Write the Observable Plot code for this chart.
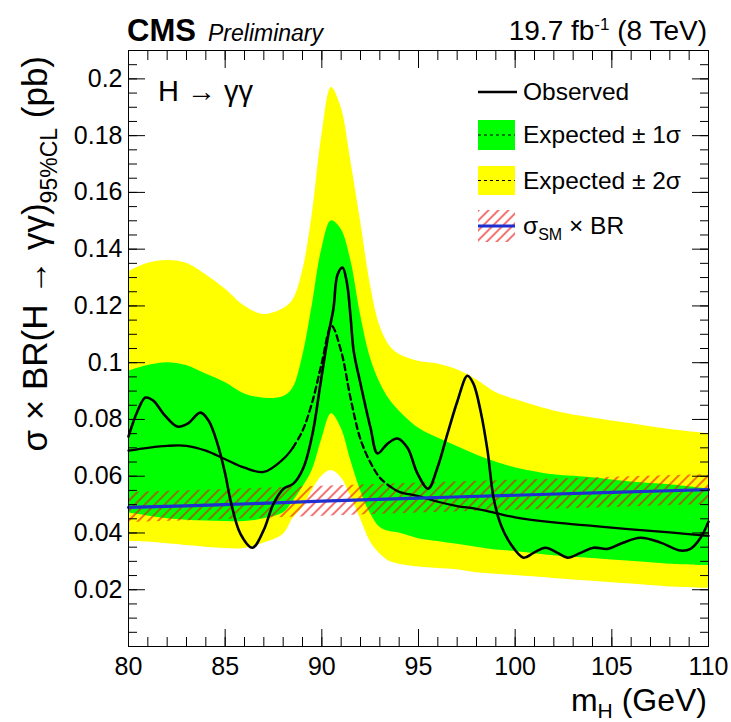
<!DOCTYPE html>
<html><head><meta charset="utf-8">
<script src="https://cdn.jsdelivr.net/npm/d3@7"></script>
<script src="https://cdn.jsdelivr.net/npm/@observablehq/plot@0.6"></script>
<style>
html,body{margin:0;padding:0;background:#fff;}
body{width:731px;height:722px;overflow:hidden;font-family:"Liberation Sans",Arial,Helvetica,sans-serif;color:#000;}
#header{position:relative;width:731px;height:44px;}
#header span{position:absolute;line-height:1;white-space:nowrap;}
#chart{width:731px;height:678px;}
</style></head><body>
<div id="header">
<span style="left:127px;top:15px;font-size:31px;font-weight:bold;">CMS</span>
<span style="left:208px;top:22px;font-size:23px;font-style:italic;">Preliminary</span>
<span style="right:24px;top:17px;font-size:28px;">19.7 fb<sup style="font-size:17px;vertical-align:10px;line-height:0">-1</sup> (8 TeV)</span>
</div>
<div id="chart"></div>
<script>
// ---- data ----
const bandX  = [80, 81, 82, 83, 84, 85, 86, 87, 88, 88.5, 89, 89.5, 90, 90.5, 91, 91.5, 92, 92.5, 93, 93.5, 94, 95, 96, 97, 98, 99, 100, 102, 104, 106, 108, 110];
const exp2Hi = [0.132, 0.135, 0.136, 0.135, 0.131, 0.126, 0.120, 0.117, 0.119, 0.122, 0.132, 0.152, 0.180, 0.197, 0.190, 0.171, 0.150, 0.128, 0.113, 0.106, 0.103, 0.1005, 0.0995, 0.0975, 0.094, 0.0895, 0.087, 0.083, 0.0805, 0.0785, 0.0765, 0.075];
const exp1Hi = [0.097, 0.099, 0.100, 0.099, 0.096, 0.093, 0.089, 0.0875, 0.088, 0.091, 0.102, 0.120, 0.140, 0.150, 0.147, 0.136, 0.117, 0.102, 0.093, 0.087, 0.083, 0.077, 0.0735, 0.0705, 0.0675, 0.065, 0.063, 0.0605, 0.0595, 0.058, 0.057, 0.0555];
const expMed = [0.069, 0.070, 0.0707, 0.0707, 0.069, 0.066, 0.063, 0.0615, 0.066, 0.070, 0.076, 0.086, 0.100, 0.113, 0.104, 0.087, 0.073, 0.065, 0.0595, 0.0565, 0.0545, 0.053, 0.051, 0.0495, 0.0485, 0.047, 0.0455, 0.0437, 0.0425, 0.0413, 0.0402, 0.039];
const exp1Lo = [0.047, 0.046, 0.045, 0.0445, 0.0442, 0.044, 0.044, 0.045, 0.047, 0.051, 0.056, 0.062, 0.073, 0.082, 0.077, 0.0655, 0.055, 0.047, 0.042, 0.0405, 0.040, 0.038, 0.037, 0.036, 0.035, 0.034, 0.0335, 0.032, 0.031, 0.030, 0.029, 0.0285];
const exp2Lo = [0.037, 0.0368, 0.0362, 0.0356, 0.035, 0.0345, 0.0345, 0.0365, 0.0395, 0.045, 0.049, 0.055, 0.060, 0.062, 0.0595, 0.053, 0.045, 0.037, 0.0327, 0.030, 0.029, 0.028, 0.0275, 0.027, 0.026, 0.0255, 0.025, 0.024, 0.023, 0.022, 0.021, 0.0205];

const obsX = [80, 80.47, 80.88, 81.29, 81.81, 82.53, 83.05, 83.72, 84.14, 84.6, 85.0, 85.28, 85.79, 86.41, 86.98, 87.5, 88.02, 88.53, 89.05, 89.52, 89.93, 90.34, 90.6, 90.81, 91.07, 91.3, 91.5, 91.65, 92.0, 92.52, 92.88, 93.4, 93.91, 94.43, 94.95, 95.5, 95.98, 96.5, 97.02, 97.53, 97.84, 98.21, 98.57, 98.88, 99.24, 99.76, 100.43, 100.95, 101.57, 102.19, 102.71, 103.38, 104.05, 104.78, 105.45, 106.48, 107.52, 108.55, 109.07, 109.59, 110];
const obsY = [0.074, 0.083, 0.0877, 0.0866, 0.082, 0.0775, 0.0785, 0.0824, 0.0796, 0.0715, 0.0609, 0.0514, 0.0397, 0.0348, 0.0408, 0.0503, 0.0556, 0.0574, 0.063, 0.075, 0.0926, 0.110, 0.119, 0.131, 0.1335, 0.128, 0.115, 0.104, 0.0926, 0.077, 0.068, 0.0715, 0.0733, 0.070, 0.0609, 0.0556, 0.063, 0.075, 0.0866, 0.0954, 0.0926, 0.083, 0.069, 0.0525, 0.0432, 0.0362, 0.0313, 0.033, 0.0348, 0.033, 0.0313, 0.033, 0.0348, 0.0344, 0.0362, 0.0383, 0.0366, 0.0338, 0.0344, 0.0383, 0.044];

const smX  = [80, 85, 90, 95, 100, 105, 110];
const smY  = [0.049, 0.050, 0.0512, 0.0523, 0.0533, 0.0543, 0.0553];
const smLo = [0.0437, 0.0447, 0.0459, 0.0470, 0.0480, 0.0490, 0.0500];
const smHi = [0.0543, 0.0553, 0.0565, 0.0576, 0.0586, 0.0596, 0.0606];

const xMajor = [80, 85, 90, 95, 100, 105, 110];
const yMajor = [0.02, 0.04, 0.06, 0.08, 0.1, 0.12, 0.14, 0.16, 0.18, 0.2];
const xMinor = d3.range(80, 110.5, 1);
const yMinor = d3.range(0, 43).map(i => +(i * 0.005).toFixed(3));

// ---- tables ----
const bands = bandX.map((x, i) => ({x, y2lo: exp2Lo[i], y1lo: exp1Lo[i], med: expMed[i], y1hi: exp1Hi[i], y2hi: exp2Hi[i]}));
const obs = obsX.map((x, i) => ({x, y: obsY[i]}));
const sm = smX.map((x, i) => ({x, y: smY[i], lo: smLo[i], hi: smHi[i]}));

const GREEN = "#00ff00", YELLOW = "#ffff00", BLUE = "#1f2fd0";
const FONT = "'Liberation Sans', Arial, Helvetica, sans-serif";
const MAJ = 17, MIN = 9;

const plot = Plot.plot({
  width: 731, height: 678,
  marginLeft: 128, marginRight: 23, marginTop: 6, marginBottom: 76,
  x: {domain: [80, 110], label: null},
  y: {domain: [0, 0.21], label: null},
  style: {fontFamily: FONT, fontSize: "25px", color: "#000", background: "#fff", overflow: "visible"},
  marks: [
    Plot.areaY(bands, {x: "x", y1: "y2lo", y2: "y2hi", fill: YELLOW, curve: "catmull-rom"}),
    Plot.areaY(bands, {x: "x", y1: "y1lo", y2: "y1hi", fill: GREEN, curve: "catmull-rom"}),
    Plot.areaY(sm, {x: "x", y1: "lo", y2: "hi", fill: "url(#hatch)"}),
    Plot.line(bands.filter(d => d.x <= 88.5), {x: "x", y: "med", stroke: "#000", strokeWidth: 2.3, curve: "catmull-rom"}),
    Plot.line(bands.filter(d => d.x >= 88.5 && d.x <= 93.5), {x: "x", y: "med", stroke: "#000", strokeWidth: 2.3, strokeDasharray: "6,4", curve: "catmull-rom"}),
    Plot.line(bands.filter(d => d.x >= 93.5), {x: "x", y: "med", stroke: "#000", strokeWidth: 2.3, curve: "catmull-rom"}),
    Plot.line(sm, {x: "x", y: "y", stroke: BLUE, strokeWidth: 3.2, curve: "catmull-rom"}),
    Plot.line(obs, {x: "x", y: "y", stroke: "#000", strokeWidth: 2.6, curve: "catmull-rom"}),
    Plot.frame({stroke: "#000", strokeWidth: 1}),
    // bottom axis labels + inward ticks
    Plot.axisX({anchor: "bottom", ticks: xMajor, tickSize: 0, tickPadding: 11, tickFormat: d => String(d), fontSize: 25, label: null}),
    Plot.axisX({anchor: "bottom", ticks: xMajor, tickSize: MAJ, dy: -MAJ, fill: "none", label: null}),
    Plot.axisX({anchor: "bottom", ticks: xMinor, tickSize: MIN, dy: -MIN, fill: "none", label: null}),
    Plot.axisX({anchor: "top", ticks: xMajor, tickSize: MAJ, dy: MAJ, fill: "none", label: null}),
    Plot.axisX({anchor: "top", ticks: xMinor, tickSize: MIN, dy: MIN, fill: "none", label: null}),
    // left axis labels + inward ticks
    Plot.axisY({anchor: "left", ticks: yMajor, tickSize: 0, tickPadding: 6, tickFormat: d => String(d), fontSize: 25, label: null}),
    Plot.axisY({anchor: "left", ticks: yMajor, tickSize: MAJ, dx: MAJ, fill: "none", label: null}),
    Plot.axisY({anchor: "left", ticks: yMinor, tickSize: MIN, dx: MIN, fill: "none", label: null}),
    Plot.axisY({anchor: "right", ticks: yMajor, tickSize: MAJ, dx: -MAJ, fill: "none", label: null}),
    Plot.axisY({anchor: "right", ticks: yMinor, tickSize: MIN, dx: -MIN, fill: "none", label: null})
  ]
});

document.getElementById("chart").append(plot);

// ---- decorations: hatch pattern, titles, legend ----
const svg = d3.select(plot);
const defs = svg.insert("defs", ":first-child");
const pat = defs.append("pattern").attr("id", "hatch").attr("patternUnits", "userSpaceOnUse")
  .attr("width", 7).attr("height", 7).attr("patternTransform", "rotate(45)");
pat.append("line").attr("x1", 1).attr("y1", -1).attr("x2", 1).attr("y2", 8)
  .attr("stroke", "#ee1111").attr("stroke-width", 1.3).attr("stroke-opacity", 0.9);

const deco = svg.append("g").attr("font-family", FONT).attr("fill", "#000").attr("text-anchor", "start");

// H -> gamma gamma
deco.append("text").attr("x", 158).attr("y", 57).attr("font-size", 29).text("H \u2192 \u03B3\u03B3");

// y-axis title
const yt = deco.append("text").attr("transform", "translate(47,12) rotate(-90)")
  .attr("text-anchor", "end").attr("font-size", 35);
yt.append("tspan").text("\u03C3 \u00D7 BR(H \u2192 \u03B3\u03B3)");
yt.append("tspan").attr("font-size", 23).attr("dy", 10).text("95%CL");
yt.append("tspan").attr("dy", -10).text(" (pb)");

// x-axis title
const xt = deco.append("text").attr("x", 707).attr("y", 667).attr("text-anchor", "end").attr("font-size", 32);
xt.append("tspan").text("m");
xt.append("tspan").attr("font-size", 21).attr("dy", 7).text("H");
xt.append("tspan").attr("dy", -7).text(" (GeV)");

// legend
const lg = deco.append("g").attr("font-size", 24.5);
const lx = 478, lw = 37;
lg.append("line").attr("x1", lx).attr("x2", lx + 39).attr("y1", 48).attr("y2", 48).attr("stroke", "#000").attr("stroke-width", 2.5);
lg.append("text").attr("x", 523).attr("y", 56).text("Observed");

lg.append("rect").attr("x", lx).attr("y", 76).attr("width", lw).attr("height", 30).attr("fill", GREEN);
lg.append("line").attr("x1", lx).attr("x2", lx + lw).attr("y1", 91).attr("y2", 91).attr("stroke", "#000").attr("stroke-width", 1.2).attr("stroke-dasharray", "3,3");
lg.append("text").attr("x", 523).attr("y", 99).text("Expected \u00B1 1\u03C3");

lg.append("rect").attr("x", lx).attr("y", 122).attr("width", lw).attr("height", 29).attr("fill", YELLOW);
lg.append("line").attr("x1", lx).attr("x2", lx + lw).attr("y1", 136.5).attr("y2", 136.5).attr("stroke", "#000").attr("stroke-width", 1.2).attr("stroke-dasharray", "3,3");
lg.append("text").attr("x", 523).attr("y", 145).text("Expected \u00B1 2\u03C3");

lg.append("rect").attr("x", lx).attr("y", 166).attr("width", lw).attr("height", 32).attr("fill", "url(#hatch)");
lg.append("line").attr("x1", lx).attr("x2", lx + lw).attr("y1", 182).attr("y2", 182).attr("stroke", BLUE).attr("stroke-width", 3.2);
const smt = lg.append("text").attr("x", 523).attr("y", 190);
smt.append("tspan").text("\u03C3");
smt.append("tspan").attr("font-size", 16).attr("dy", 6).text("SM");
smt.append("tspan").attr("dy", -6).text(" \u00D7 BR");
</script>
</body></html>
